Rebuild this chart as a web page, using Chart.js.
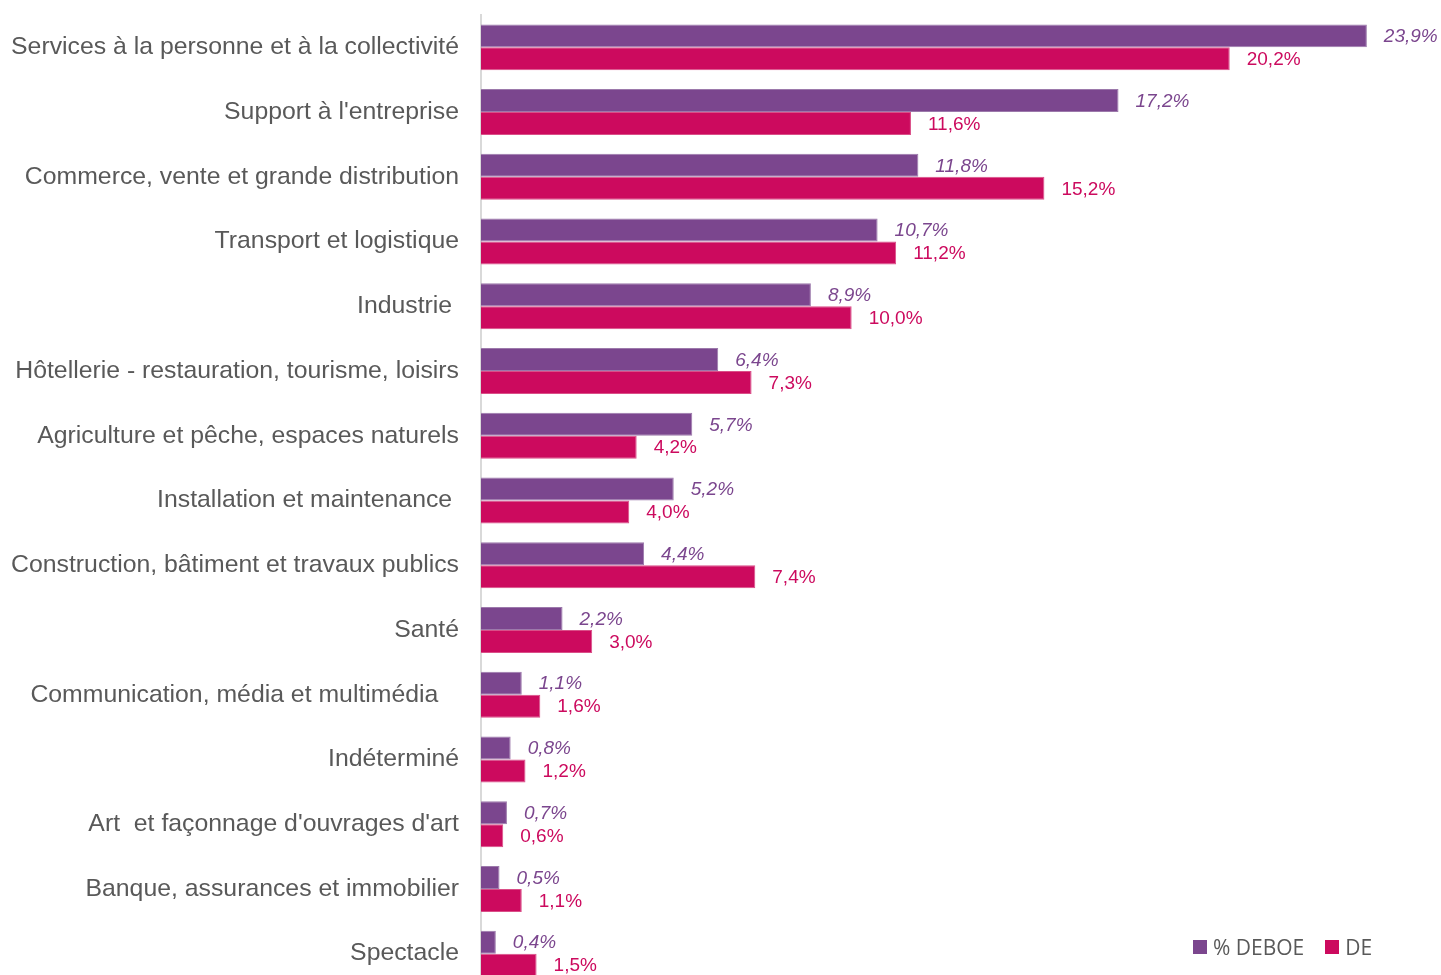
<!DOCTYPE html>
<html>
<head>
<meta charset="utf-8">
<script src="https://cdn.jsdelivr.net/npm/chart.js@4.4.1/dist/chart.umd.min.js"></script>
<style>
html,body{margin:0;padding:0;width:1441px;height:975px;overflow:hidden;background:#fff;}
#wrap{position:absolute;left:0;top:0;width:1441px;height:1000px;}
#legend{position:absolute;left:1193px;top:933px;font-family:"Open Sans",sans-serif;font-size:21px;color:#595959;display:flex;align-items:center;white-space:nowrap;}
#legend span.sw{display:inline-block;width:14px;height:14px;margin-right:6px;}
#legend span.item{display:flex;align-items:center;margin-right:21px;}
</style>
</head>
<body>
<div id="wrap"><canvas id="c"></canvas></div>
<div id="legend"></div>
<script>
const categories = [
  "Services à la personne et à la collectivité",
  "Support à l'entreprise",
  "Commerce, vente et grande distribution",
  "Transport et logistique",
  "Industrie ",
  "Hôtellerie - restauration, tourisme, loisirs",
  "Agriculture et pêche, espaces naturels",
  "Installation et maintenance ",
  "Construction, bâtiment et travaux publics",
  "Santé",
  "Communication, média et multimédia   ",
  "Indéterminé",
  "Art  et façonnage d'ouvrages d'art",
  "Banque, assurances et immobilier",
  "Spectacle"
];
const seriesNames = ["% DEBOE", "DE"];
const deboe = [23.9, 17.2, 11.8, 10.7, 8.9, 6.4, 5.7, 5.2, 4.4, 2.2, 1.1, 0.8, 0.7, 0.5, 0.4];
const de = [20.2, 11.6, 15.2, 11.2, 10.0, 7.3, 4.2, 4.0, 7.4, 3.0, 1.6, 1.2, 0.6, 1.1, 1.5];
const colors = ["#7B468E", "#CC0A5E"];
const borderColors = ["#9C79AB", "#DA4F88"];

const labelPlugin = {
  id: 'valueLabels',
  afterDatasetsDraw(chart) {
    const ctx = chart.ctx;
    chart.data.datasets.forEach((ds, di) => {
      const meta = chart.getDatasetMeta(di);
      ctx.save();
      ctx.font = (di === 0 ? 'italic ' : '') + '19px "Liberation Sans", Arial, sans-serif';
      ctx.fillStyle = colors[di];
      ctx.textAlign = 'left';
      ctx.textBaseline = 'middle';
      meta.data.forEach((el, i) => {
        const v = ds.data[i];
        ctx.fillText(v.toFixed(1).replace('.', ',') + '%', el.x + 17, el.y + 1);
      });
      ctx.restore();
    });
  }
};

new Chart(document.getElementById('c'), {
  type: 'bar',
  data: {
    labels: categories,
    datasets: [
      {label: seriesNames[0], data: deboe, backgroundColor: colors[0], borderColor: borderColors[0], borderWidth: 1, categoryPercentage: 0.71, barPercentage: 1},
      {label: seriesNames[1], data: de, backgroundColor: colors[1], borderColor: borderColors[1], borderWidth: 1, categoryPercentage: 0.71, barPercentage: 1}
    ]
  },
  options: {
    indexAxis: 'y',
    responsive: true,
    maintainAspectRatio: false,
    animation: false,
    layout: {padding: {top: 15, bottom: 14, left: 0, right: 0}},
    plugins: {legend: {display: false}, tooltip: {enabled: false}},
    scales: {
      x: {display: false, min: 0, max: 25.9},
      y: {
        grid: {display: false, drawTicks: false},
        border: {display: true, color: '#D9D9D9', width: 2},
        ticks: {color: '#595959', padding: 22, font: {family: '"Liberation Sans", Arial, sans-serif', size: 24.8}},
        afterFit(scale) { scale.width = 481; scale.paddingTop = 0; scale.paddingBottom = 0; }
      }
    }
  },
  plugins: [labelPlugin]
});

const leg = document.getElementById('legend');
seriesNames.forEach((n, i) => {
  const it = document.createElement('span');
  it.className = 'item';
  const sw = document.createElement('span');
  sw.className = 'sw';
  sw.style.background = colors[i];
  it.appendChild(sw);
  it.appendChild(document.createTextNode(n));
  leg.appendChild(it);
});
</script>
</body>
</html>
